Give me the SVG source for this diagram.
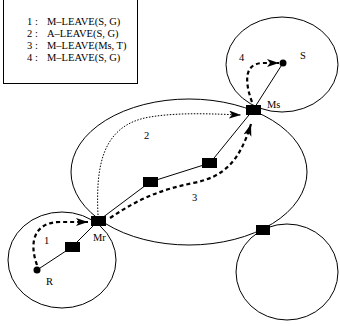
<svg xmlns="http://www.w3.org/2000/svg" width="340" height="326" viewBox="0 0 340 326">
<style>
.t{font-family:"Liberation Serif","Times New Roman",serif;font-size:10.5px;fill:#000}
.c{fill:none;stroke:#000;stroke-width:1}
.ln{stroke:#000;stroke-width:1;fill:none}
.n{fill:#000}
.dash{fill:none;stroke:#000;stroke-width:2.2;stroke-dasharray:4 3}
.dot{fill:none;stroke:#000;stroke-width:1;stroke-dasharray:1.5 1.5}
</style>
<defs>
<marker id="ah" markerUnits="userSpaceOnUse" markerWidth="14" markerHeight="10" refX="12" refY="4" orient="auto">
<path d="M0,0 L12,4 L0,8 L3,4 Z" fill="#000"/>
</marker>
</defs>
<g id="legend">
<rect x="3.5" y="-1" width="134" height="84.5" fill="#fff" stroke="#000" stroke-width="1"/>
<text class="t" x="27" y="25">1 :</text><text class="t" x="47" y="25">M–LEAVE(S, G)</text>
<text class="t" x="27" y="37">2 :</text><text class="t" x="47" y="37">A–LEAVE(S, G)</text>
<text class="t" x="27" y="49">3 :</text><text class="t" x="47" y="49">M–LEAVE(Ms, T)</text>
<text class="t" x="27" y="61">4 :</text><text class="t" x="47" y="61">M–LEAVE(S, G)</text>
</g>
<g id="cells">
<ellipse class="c" cx="282" cy="64.5" rx="56" ry="47.5"/>
<ellipse class="c" cx="189" cy="172" rx="118" ry="73"/>
<ellipse class="c" cx="62" cy="260" rx="54" ry="48"/>
<ellipse class="c" cx="287" cy="272" rx="51" ry="48"/>
</g>
<g id="connectors">
<polyline class="ln" points="37,270 72,247 98,221 150,182 210,163 253,110 283,63"/>
<path class="dash" d="M37,265 C28,240 36,222 60,222 L88,222" marker-end="url(#ah)"/>
<path class="dot" d="M98,215 C96,170 100,125 150,117 C180,112 215,114 241,115" marker-end="url(#ah)"/>
<path class="dash" d="M110,218 C140,198 160,190 193,183 C225,177 240,160 251,124" marker-end="url(#ah)"/>
<path class="dash" d="M252,102 C244,80 245,64 262,63 L279,63" marker-end="url(#ah)"/>
</g>
<g id="S"><circle class="n" cx="283" cy="63" r="3.5"/><text class="t" x="300" y="59">S</text></g>
<g id="R"><circle class="n" cx="37" cy="270" r="3.5"/><text class="t" x="46" y="285">R</text></g>
<g id="Ms"><rect class="n" x="246" y="105" width="15" height="10"/><text class="t" x="267" y="108">Ms</text></g>
<g id="Mr"><rect class="n" x="91" y="216" width="15" height="10"/><text class="t" x="93" y="241">Mr</text></g>
<g id="n1"><rect class="n" x="65" y="242" width="15" height="10"/></g>
<g id="n2"><rect class="n" x="143" y="177" width="15" height="10"/></g>
<g id="n3"><rect class="n" x="202" y="158" width="15" height="10"/></g>
<g id="n4"><rect class="n" x="256" y="225" width="14" height="10"/></g>
<g id="labels">
<text class="t" x="44" y="244">1</text>
<text class="t" x="144" y="139">2</text>
<text class="t" x="192" y="201">3</text>
<text class="t" x="239" y="61">4</text>
</g>
</svg>
